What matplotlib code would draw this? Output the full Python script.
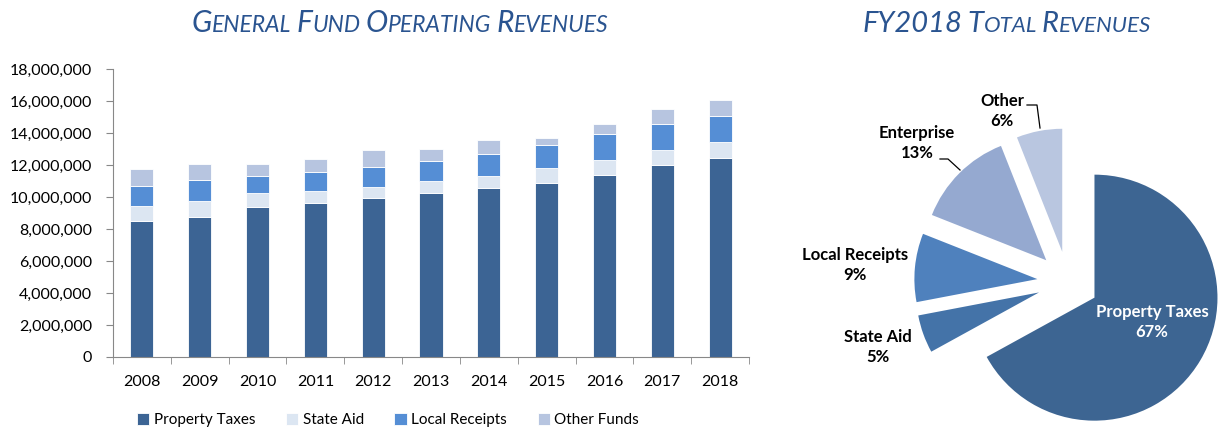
import numpy as np
import matplotlib
matplotlib.use("Agg")
import matplotlib.pyplot as plt
from matplotlib.ticker import FuncFormatter

# ================================
# DATA
# ================================
years = ["2008", "2009", "2010", "2011", "2012", "2013",
         "2014", "2015", "2016", "2017", "2018"]
property_taxes = [8.51, 8.76, 9.36, 9.61, 9.95, 10.22, 10.57, 10.90, 11.40, 12.01, 12.42]
state_aid = [0.94, 1.02, 0.86, 0.77, 0.68, 0.77, 0.75, 0.94, 0.94, 0.93, 1.02]
local_receipts = [1.25, 1.29, 1.10, 1.19, 1.25, 1.27, 1.35, 1.44, 1.62, 1.60, 1.60]
other_funds = [1.06, 1.02, 0.77, 0.79, 1.06, 0.77, 0.88, 0.41, 0.61, 0.94, 1.04]

pie_labels = ["Property Taxes", "State Aid", "Local Receipts", "Enterprise", "Other"]
pie_shares = [67, 5, 9, 13, 6]

# ================================
# STYLE
# ================================
plt.rcParams["font.family"] = ["Lato", "DejaVu Sans"]
bar_colors = ["#3C6494", "#DCE6F2", "#558ED5", "#B7C5E0"]
pie_colors = ["#3D6592", "#4473A8", "#4F81BD", "#95A9D0", "#B9C6E0"]
title_color = "#2A5490"
W, H = 1224, 432

fig = plt.figure(figsize=(W / 100, H / 100), dpi=100)

# ================================
# STACKED BARS
# ================================
ax = fig.add_axes([113 / W, (H - 357) / H, (749 - 113) / W, (357 - 69) / H])
x = np.arange(len(years))
scale = 1e6
series = [property_taxes, state_aid, local_receipts, other_funds]
names = ["Property Taxes", "State Aid", "Local Receipts", "Other Funds"]
bottom = np.zeros(len(years))
for vals, col, name in zip(series, bar_colors, names):
    v = np.array(vals) * scale
    ax.bar(x, v, 0.4, bottom=bottom, color=col, edgecolor="white",
           linewidth=0.6, label=name)
    bottom += v

ax.set_xlim(-0.5, len(years) - 0.5)
ax.set_ylim(0, 18e6)
ax.set_yticks(np.arange(0, 18e6 + 1, 2e6))
ax.yaxis.set_major_formatter(FuncFormatter(lambda v, p: f"{int(v):,}"))
ax.set_xticks(x)
ax.set_xticklabels(years)
ax.set_xticks(np.arange(-0.5, len(years), 1), minor=True)
ax.tick_params(axis="x", which="major", length=0, pad=13, labelsize=11.5)
ax.tick_params(axis="x", which="minor", length=5, color="#888888", direction="out")
ax.tick_params(axis="y", length=5, color="#888888", labelsize=11.5, pad=10)
for s in ["top", "right"]:
    ax.spines[s].set_visible(False)
for s in ["left", "bottom"]:
    ax.spines[s].set_color("#888888")

fig.legend(loc="center", bbox_to_anchor=(388 / W, 12 / H), ncol=4, frameon=False,
           fontsize=11, handlelength=0.8, handleheight=0.8, handletextpad=0.3,
           columnspacing=2.0)

# ================================
# PIE
# ================================
cx, cy, r = 1068, 282, 123
lim = 1.6
side = 2 * lim * r
pax = fig.add_axes([(cx - side / 2) / W, (H - cy - side / 2) / H, side / W, side / H])
pax.pie(pie_shares, colors=pie_colors, startangle=90, counterclock=False,
        explode=[0.25] * 5, radius=1)
pax.set_xlim(-lim, lim)
pax.set_ylim(-lim, lim)
pax.set_aspect("equal")
pax.axis("off")


def to_pie(px, py):
    return (px - cx) / r, (cy - py) / r


label_pos = [(1152, 322), (878, 347), (855, 265), (917, 143), (1002, 111)]
for i, (lab, sh) in enumerate(zip(pie_labels, pie_shares)):
    tx, ty = to_pie(*label_pos[i])
    pax.text(tx, ty, f"{lab}\n{sh}%", ha="center", va="center", fontsize=12,
             fontweight="bold", linespacing=1.3,
             color="white" if i == 0 else "black", clip_on=False)

# leader lines
for pts in [[(1027, 105), (1037, 105), (1040, 128)],
            [(940, 159), (948, 159), (960, 170)]]:
    xy = np.array([to_pie(*p) for p in pts])
    pax.plot(xy[:, 0], xy[:, 1], color="black", lw=0.9, clip_on=False)


# ================================
# SMALL CAPS TITLES
# ================================
def small_caps(text, xc, yb, big=21.5, small=16.5):
    renderer = fig.canvas.get_renderer()
    parts = []
    for k, word in enumerate(text.split(" ")):
        if k > 0:
            parts.append((" ", small))
        if any(c.isdigit() for c in word):
            parts.append((word, big))
        else:
            parts.append((word[0], big))
            parts.append((word[1:].upper(), small))
    objs = []
    xpos = 0
    for s, size in parts:
        t = fig.text(0, (H - yb) / H, s, fontsize=size, style="italic",
                     color=title_color, ha="left", va="baseline")
        w = size * 0.32 if s == " " else t.get_window_extent(renderer).width
        objs.append((t, xpos))
        xpos += w
    start = xc - xpos / 2
    for t, xp in objs:
        t.set_x((start + xp) / W)


small_caps("General Fund Operating Revenues", 400, 32)
small_caps("FY2018 Total Revenues", 1007, 32, big=21, small=16)

fig.savefig("out.png", dpi=100)
